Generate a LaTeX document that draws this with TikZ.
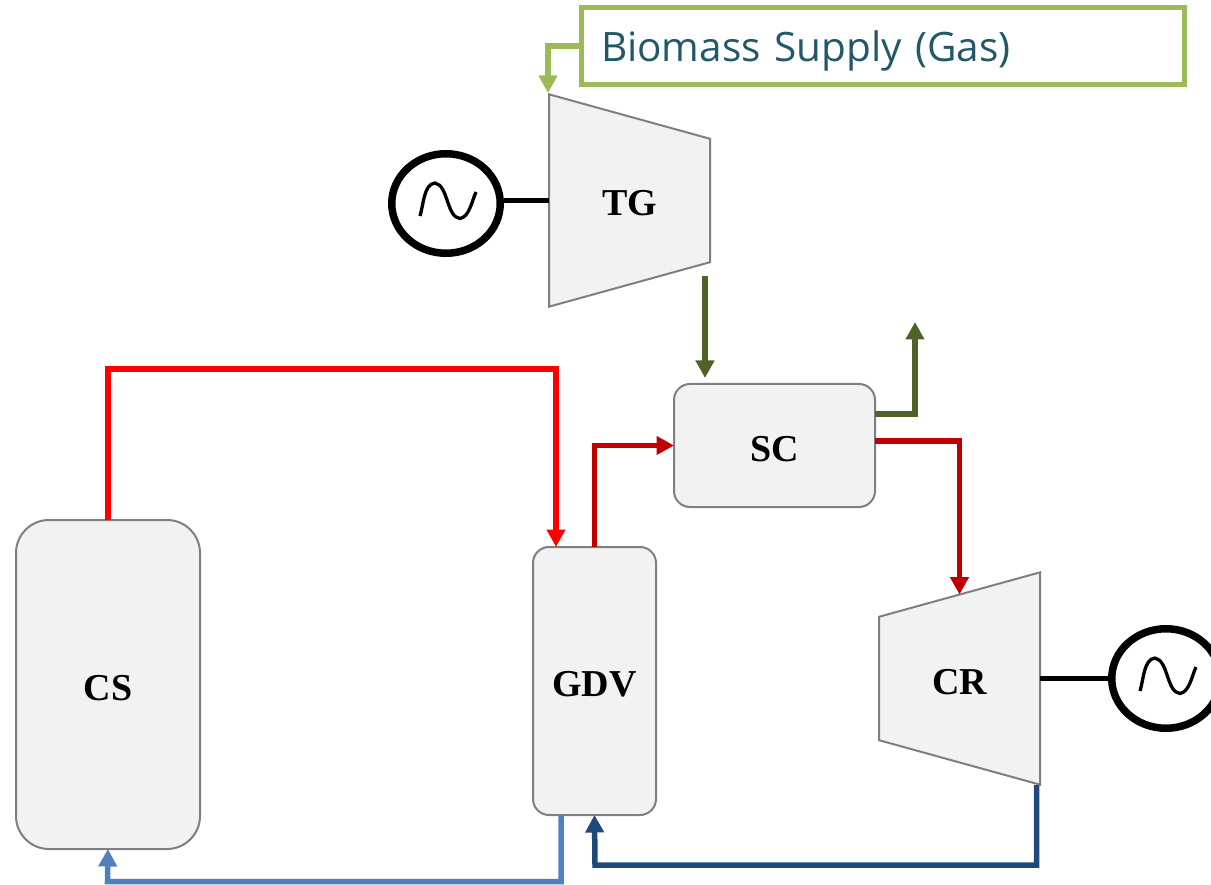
\documentclass[tikz,border=0pt]{standalone}
\usepackage{fontspec}
\setmainfont{Liberation Serif}
\newfontfamily\labelfont{Open Sans}
\usetikzlibrary{arrows.meta,shapes.geometric}
\definecolor{boxfill}{HTML}{F2F2F2}
\definecolor{boxline}{HTML}{7F7F7F}
\definecolor{supplygreen}{HTML}{9BBB59}
\definecolor{supplytext}{HTML}{215968}
\definecolor{gasgreen}{HTML}{4F6228}
\definecolor{hotred}{HTML}{FF0000}
\definecolor{darkred}{HTML}{C00000}
\definecolor{coldblue}{HTML}{4F81BD}
\definecolor{darkblue}{HTML}{1F497D}

\begin{document}
\begin{tikzpicture}[x=1pt,y=-1pt,
	unit/.style={draw=boxline,fill=boxfill,line width=2pt,outer sep=0pt,inner sep=0pt,text height=31pt,text depth=0pt,font=\bfseries\fontsize{38}{38}\selectfont},
	vessel/.style={unit,shape=rectangle},
	turbine/.style={unit,shape=trapezium,trapezium stretches=true,minimum width=#1,minimum height=161pt,trapezium left angle=78.5,trapezium right angle=78.5},
	generator/.style={draw=black,line width=7.5pt,shape=ellipse,minimum width=108.5pt,minimum height=99.5pt,outer sep=3.75pt,inner sep=0pt,
		path picture={\draw[line width=3.3pt,line join=round] ([shift={(-26pt,-12.5pt)}]path picture bounding box.center) to[out=72,in=185,looseness=.8] ([shift={(-11pt,20.5pt)}]path picture bounding box.center) to[out=-10,in=175,looseness=.8] ([shift={(14pt,-15pt)}]path picture bounding box.center) to[out=10,in=245,looseness=.8] ([shift={(30pt,11.5pt)}]path picture bounding box.center);}},
	flow/.style={line width=5.5pt,-{Triangle[length=17.5pt,width=18pt]}},
	link/.style={line width=4.5pt,black}]
	\path[use as bounding box] (0,0) rectangle (1211,885);

	\path (108,684.5) node[vessel,minimum width=184pt,minimum height=329pt,rounded corners=33pt] (CS) {CS}
	(594.5,681) node[vessel,minimum width=123pt,minimum height=268pt,rounded corners=16pt] (GDV) {GDV}
	(774.5,445.5) node[vessel,minimum width=201pt,minimum height=123pt,rounded corners=16pt] (SC) {SC}
	(629.5,200.5) node[turbine=213pt,shape border rotate=270] (TG) {TG}
	(959.5,678.5) node[turbine=213pt,shape border rotate=90] (CR) {CR}
	(446,203.5) node[generator] (gen1) {}
	(1166,678.5) node[generator] (gen2) {}
	(882.5,46) node[draw=supplygreen,line width=5pt,outer sep=0pt,inner xsep=20pt,inner ysep=0pt,text width=563pt,text height=31pt,text depth=0pt,minimum height=77.5pt,align=left,text=supplytext,font=\labelfont\fontsize{40.5}{40.5}\selectfont] (supply) {Biomass Supply (Gas)};

	\coordinate (gasout) at (705,276);
	\coordinate (stack) at (915,322);

	\draw[link] (TG.west -| gen1.east) -- (TG.west);
	\draw[link] (CR.east |- gen2) -- (gen2);

	\draw[flow,supplygreen] (supply.west) -| (548,93);
	\draw[flow,gasgreen] (gasout) -- (705,378);
	\draw[flow,gasgreen] ([yshift=31.5pt]SC.east) -| (stack);
	\draw[flow,hotred] (CS.north) |- (556,369) -- ([xshift=-38.5pt]GDV.north);
	\draw[flow,darkred] (GDV.north) |- (SC.west);
	\draw[flow,darkred] ([yshift=4.5pt]SC.east) -| (CR.north);
	\draw[flow,darkblue] (1036.5,785) |- (595,865) -- (GDV.south);
	\draw[flow,coldblue] ([xshift=-33.5pt]GDV.south) |- (107.5,881.5) -- (CS.south);
\end{tikzpicture}
\end{document}
